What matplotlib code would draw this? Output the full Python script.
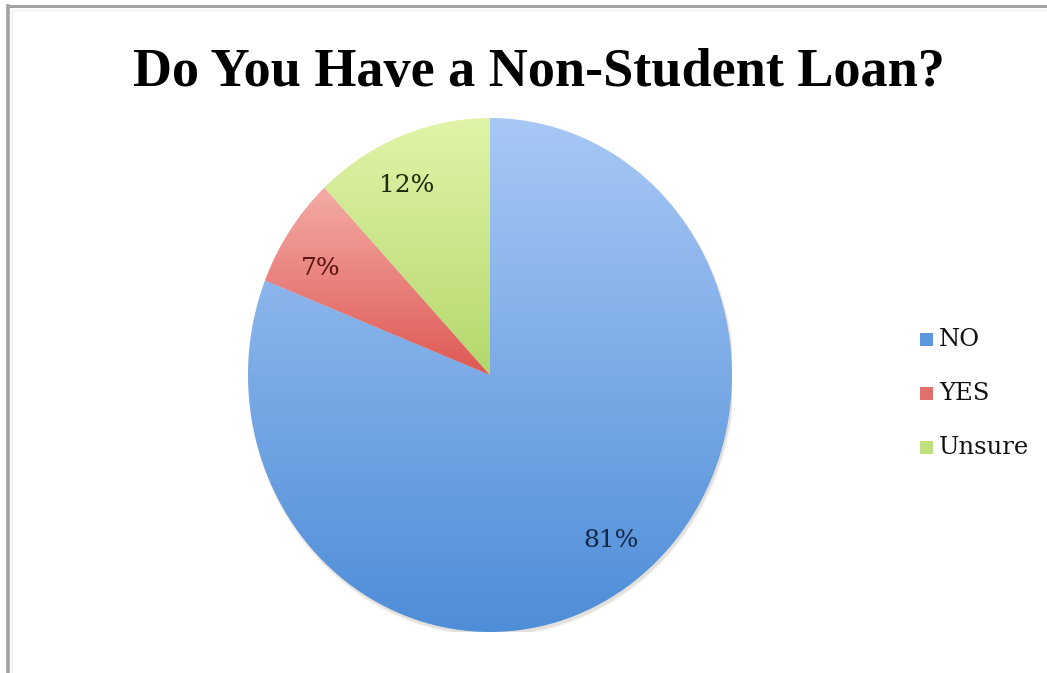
import numpy as np
import matplotlib
matplotlib.use("Agg")
import matplotlib.pyplot as plt
from matplotlib.colors import LinearSegmentedColormap
from matplotlib.patches import Ellipse, Rectangle
from matplotlib.lines import Line2D

# ---- data ----
categories = ["NO", "YES", "Unsure"]
shares = [81, 7, 12]
title_text = "Do You Have a Non-Student Loan?"

# ---- styling ----
grad_top = ["#a8c8f5", "#f4aca6", "#e1f4a8"]
grad_bottom = ["#4e8dd8", "#de5853", "#b4d86c"]
label_colors = ["#14284a", "#5c1512", "#1f2b0a"]
legend_colors = ["#5b97dd", "#e0706b", "#bfe07e"]

W, H, DPI = 1047, 673, 100
fig = plt.figure(figsize=(W / DPI, H / DPI), dpi=DPI)
fig.patch.set_facecolor("white")

# overlay in pixel coordinates for frame, title and legend
over = fig.add_axes([0, 0, 1, 1])
over.set_xlim(0, W)
over.set_ylim(H, 0)
over.axis("off")

# chart frame (left and top edges)
over.add_line(Line2D([7.5, 7.5], [5.5, H], color="#a3a3a3", lw=2.6))
over.add_line(Line2D([7.5, W], [5.5, 5.5], color="#a3a3a3", lw=2.2))
over.add_line(Line2D([11.5, 11.5], [9.5, H], color="#ececec", lw=1.0))
over.add_line(Line2D([11.5, W], [9.5, 9.5], color="#f0f0f0", lw=1.0))

over.text(539, 86, title_text, ha="center", va="baseline",
          fontsize=39, fontweight="bold", family="Liberation Serif",
          color="black")

# ---- pie ----
cx, cy, rx, ry = 490, 375, 242, 257
pie_ax = fig.add_axes([(cx - rx) / W, (H - cy - ry) / H, 2 * rx / W, 2 * ry / H])
pie_ax.axis("off")

# faint drop shadow along the lower edge
for k, a in zip([0.012, 0.006, 0.0], [0.05, 0.08, 0.12]):
    pie_ax.add_patch(Ellipse((0.006, -0.012), 2 + k, 2 + k,
                             facecolor="#8a7f6c", edgecolor="none",
                             alpha=a, zorder=0))

wedges, texts, autotexts = pie_ax.pie(
    shares, startangle=90, counterclock=False, radius=1,
    autopct="%.0f%%", pctdistance=0.815,
    wedgeprops=dict(edgecolor="none", linewidth=0),
    textprops=dict(fontsize=18, family="DejaVu Serif"),
)
pie_ax.set_aspect("auto")

grad = np.linspace(1, 0, 256).reshape(-1, 1)
for w, top, bot, lc, t in zip(wedges, grad_top, grad_bottom, label_colors, autotexts):
    w.set_facecolor("none")
    verts = w.get_path().vertices
    y0, y1 = verts[:, 1].min(), verts[:, 1].max()
    cmap = LinearSegmentedColormap.from_list("g", [bot, top])
    im = pie_ax.imshow(grad, cmap=cmap, vmin=0, vmax=1, aspect="auto",
                       extent=[-1.05, 1.05, y0, y1], origin="upper",
                       zorder=1, interpolation="bilinear")
    im.set_clip_path(w)
    # percentage labels sit slightly counter-clockwise of each slice's middle
    mid = np.deg2rad((w.theta1 + w.theta2) / 2 + 3.5)
    t.set_position((0.815 * np.cos(mid), 0.815 * np.sin(mid)))
    t.set_color(lc)
    t.set_zorder(5)
pie_ax.set_xlim(-1, 1)
pie_ax.set_ylim(-1, 1)

# ---- legend ----
leg_y = [340, 394, 448]
for name, col, y in zip(categories, legend_colors, leg_y):
    over.add_patch(Rectangle((920, y - 7), 13, 13, facecolor=col, edgecolor="none"))
    over.text(939, y, name, ha="left", va="center", fontsize=17.5,
              family="DejaVu Serif", color="#111111")

fig.savefig("out.png", dpi=DPI, facecolor="white")
